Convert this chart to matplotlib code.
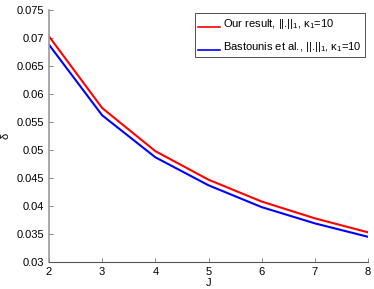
import numpy as np
import matplotlib
matplotlib.use("Agg")
import matplotlib.pyplot as plt
from matplotlib.legend_handler import HandlerLine2D

plt.rcParams["font.family"] = "Liberation Sans"
plt.rcParams["mathtext.fontset"] = "custom"
plt.rcParams["mathtext.rm"] = "Liberation Sans"
plt.rcParams["mathtext.it"] = "Liberation Sans"

J = [2, 3, 4, 5, 6, 7, 8]
ours = [0.0703, 0.0575, 0.0498, 0.0447, 0.0408, 0.0378, 0.0353]
bastounis = [0.0688, 0.0562, 0.0487, 0.0437, 0.0398, 0.0369, 0.0345]


# MATLAB puts the legend line near the text baseline
class LowLine(HandlerLine2D):
    def create_artists(self, legend, orig_handle, xdescent, ydescent,
                       width, height, fontsize, trans):
        arts = super().create_artists(legend, orig_handle, xdescent, ydescent,
                                      width, height, fontsize, trans)
        for a in arts:
            y = np.asarray(a.get_ydata(), dtype=float)
            a.set_ydata(y - 0.5 * height)
            a.set_linewidth(1.2)
        return arts


fig = plt.figure(figsize=(3.74, 2.89), dpi=100)
ax = fig.add_axes([49 / 374, 27 / 289, 319 / 374, 252 / 289])
ax.plot(J, ours, color="#ff0000", lw=1.5, label=r"Our result, ||.||$_1$, $\kappa_1$=10")
ax.plot(J, bastounis, color="#0000ff", lw=1.5, label=r"Bastounis et al., ||.||$_1$, $\kappa_1$=10")

ax.set_xlim(2, 8)
ax.set_ylim(0.03, 0.075)
ax.set_xticks(J)
ax.set_yticks(np.arange(0.03, 0.0751, 0.005))
ax.set_yticklabels(["0.03", "0.035", "0.04", "0.045", "0.05", "0.055", "0.06", "0.065", "0.07", "0.075"])
ax.tick_params(direction="in", labelsize=8, length=3, width=0.5, colors="#555555", labelcolor="black")
ax.spines["top"].set_visible(False)
ax.spines["right"].set_visible(False)
ax.spines["left"].set_color("#999999")
ax.spines["left"].set_linewidth(1.2)
ax.spines["bottom"].set_color("#555555")
ax.set_xlabel("J", fontsize=8, labelpad=1)
ax.set_ylabel(r"$\delta$", fontsize=8, labelpad=4)

leg = ax.legend(loc="upper right", fontsize=8, frameon=True, fancybox=False,
                edgecolor="black", handlelength=1.9, handletextpad=0.3,
                borderpad=0.35, labelspacing=0.8, borderaxespad=0.25,
                handler_map={matplotlib.lines.Line2D: LowLine()})
leg.get_frame().set_linewidth(0.6)

plt.savefig("out.png", dpi=100)
plt.close()
